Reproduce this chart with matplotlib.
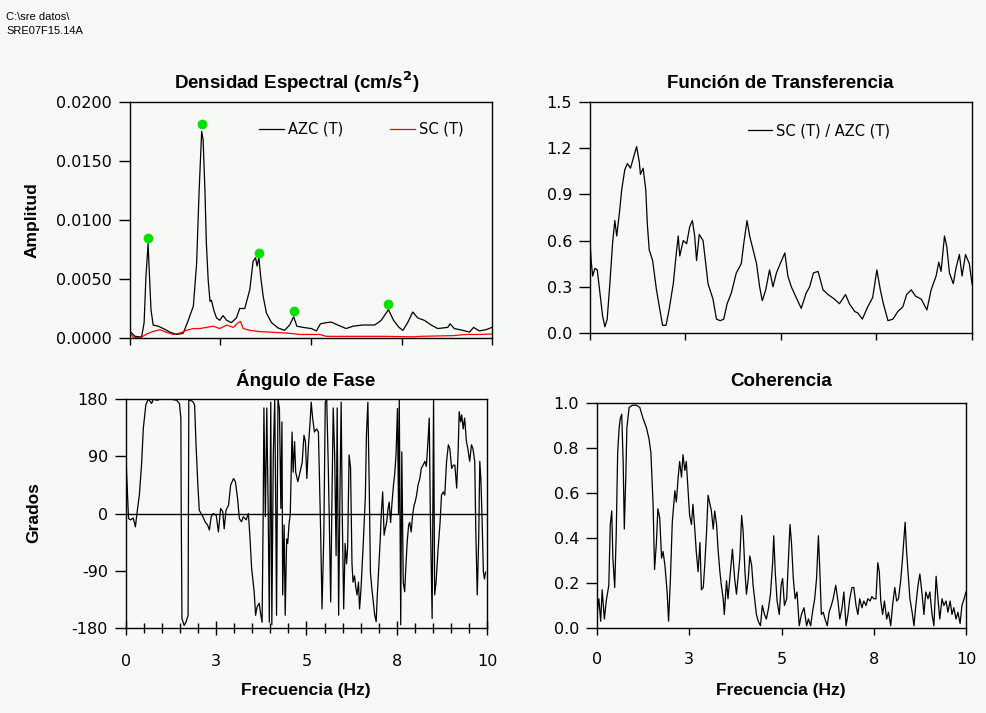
import matplotlib
matplotlib.use("Agg")
import matplotlib.pyplot as plt
from matplotlib.ticker import MultipleLocator

plt.rcParams["axes.unicode_minus"] = False

# ---- densidad espectral ----
azc_f = [0.00, 0.14, 0.32, 0.39, 0.44, 0.50, 0.53, 0.58, 0.64, 0.78, 0.92, 1.10, 1.29, 1.47,
         1.61, 1.75, 1.84, 1.91, 1.98, 2.02, 2.07, 2.11, 2.16, 2.21, 2.25, 2.32, 2.39, 2.48,
         2.57, 2.67, 2.80, 2.94, 3.03, 3.17, 3.31, 3.40, 3.47, 3.51, 3.56, 3.61, 3.68, 3.77,
         3.91, 4.09, 4.27, 4.41, 4.52, 4.61, 4.78, 5.01, 5.15, 5.26, 5.42, 5.56, 5.74, 5.97,
         6.16, 6.43, 6.76, 6.94, 7.14, 7.28, 7.43, 7.54, 7.67, 7.81, 7.95, 8.13, 8.32, 8.50,
         8.78, 8.84, 8.96, 9.19, 9.38, 9.49, 9.65, 9.83, 10.0]
azc_amp = [0.00056, 0.00014, 0.00008, 0.0013, 0.0052, 0.0080, 0.0058, 0.0024, 0.0011, 0.0010,
           0.0008, 0.0005, 0.0003, 0.0004, 0.0015, 0.0027, 0.0063, 0.0125, 0.0175, 0.0168,
           0.0125, 0.0080, 0.0049, 0.0031, 0.0032, 0.0023, 0.0017, 0.0015, 0.0019, 0.0015,
           0.0013, 0.0017, 0.0025, 0.0025, 0.0041, 0.0065, 0.0068, 0.0061, 0.0068, 0.0052,
           0.0035, 0.0021, 0.0013, 0.00085, 0.00065, 0.0011, 0.0018, 0.0010, 0.0009, 0.0008,
           0.0006, 0.0012, 0.0013, 0.00135, 0.0011, 0.0008, 0.0010, 0.0011, 0.0011, 0.0015,
           0.0024, 0.0015, 0.0009, 0.00065, 0.0013, 0.0022, 0.0017, 0.0015, 0.0011, 0.0008,
           0.0009, 0.0012, 0.0008, 0.00065, 0.0005, 0.0009, 0.0006, 0.0007, 0.0009]

sc_f = [0.00, 0.09, 0.28, 0.46, 0.64, 0.83, 1.01, 1.19, 1.38, 1.56, 1.75, 1.93, 2.11, 2.30,
        2.48, 2.67, 2.85, 2.99, 3.05, 3.13, 3.31, 3.58, 3.86, 4.32, 4.69, 5.24, 5.42, 6.16,
        7.08, 7.81, 8.00, 8.92, 9.28, 9.65, 10.0]
sc_amp = [0.00042, 0.00008, 0.0000, 0.00034, 0.00056, 0.0007, 0.00048, 0.0003, 0.00042,
          0.00065, 0.0008, 0.0008, 0.0009, 0.0010, 0.0008, 0.0011, 0.0009, 0.0013, 0.0014,
          0.0008, 0.00065, 0.00054, 0.0005, 0.00042, 0.0003, 0.0003, 0.00014, 0.00014,
          0.00014, 0.0001, 0.00014, 0.0002, 0.0003, 0.0003, 0.00034]

peak_f = [0.50, 1.98, 3.56, 4.52, 7.14]
peak_amp = [0.00851, 0.01811, 0.00718, 0.00231, 0.00287]

# ---- funcion de transferencia ----
tf_f = [0.00, 0.03, 0.07, 0.13, 0.19, 0.26, 0.33, 0.39, 0.45, 0.52, 0.59, 0.65, 0.70, 0.77,
        0.83, 0.91, 0.98, 1.06, 1.15, 1.22, 1.29, 1.32, 1.39, 1.46, 1.50, 1.55, 1.64, 1.74,
        1.83, 1.90, 1.99, 2.07, 2.18, 2.26, 2.31, 2.35, 2.44, 2.53, 2.61, 2.68, 2.74, 2.79,
        2.86, 2.96, 3.03, 3.09, 3.22, 3.31, 3.41, 3.50, 3.59, 3.70, 3.83, 3.96, 4.03, 4.11,
        4.18, 4.27, 4.36, 4.44, 4.51, 4.60, 4.70, 4.79, 4.88, 4.98, 5.10, 5.18, 5.27, 5.38,
        5.53, 5.66, 5.75, 5.85, 5.97, 6.10, 6.23, 6.40, 6.53, 6.69, 6.79, 6.93, 7.01, 7.13,
        7.27, 7.40, 7.51, 7.60, 7.68, 7.80, 7.93, 8.06, 8.19, 8.29, 8.41, 8.52, 8.67, 8.82,
        8.93, 9.06, 9.13, 9.19, 9.28, 9.34, 9.41, 9.51, 9.58, 9.67, 9.74, 9.83, 9.93, 10.0]
tf_val = [0.60, 0.47, 0.37, 0.42, 0.41, 0.26, 0.11, 0.04, 0.09, 0.32, 0.58, 0.73, 0.63, 0.78,
          0.93, 1.06, 1.10, 1.07, 1.15, 1.21, 1.11, 1.03, 1.07, 0.93, 0.71, 0.54, 0.47, 0.28,
          0.15, 0.05, 0.05, 0.15, 0.32, 0.52, 0.63, 0.50, 0.60, 0.58, 0.69, 0.73, 0.63, 0.47,
          0.64, 0.60, 0.45, 0.32, 0.22, 0.09, 0.08, 0.09, 0.19, 0.26, 0.39, 0.45, 0.59, 0.73,
          0.63, 0.54, 0.45, 0.30, 0.21, 0.28, 0.41, 0.30, 0.39, 0.45, 0.52, 0.37, 0.30, 0.24,
          0.16, 0.26, 0.30, 0.39, 0.40, 0.28, 0.25, 0.22, 0.19, 0.25, 0.19, 0.14, 0.13, 0.09,
          0.17, 0.23, 0.41, 0.28, 0.19, 0.08, 0.09, 0.14, 0.17, 0.25, 0.28, 0.24, 0.22, 0.15,
          0.28, 0.37, 0.46, 0.40, 0.63, 0.56, 0.39, 0.32, 0.42, 0.51, 0.37, 0.51, 0.45, 0.32]

# ---- angulo de fase (frecuencia, grados) ----
phase_pts = [
    (0.00, 87), (0.04, 34), (0.07, -8), (0.13, -10), (0.20, -7), (0.26, -21), (0.31, 3),
    (0.37, 29), (0.43, 76), (0.48, 134), (0.55, 171), (0.62, 180), (0.71, 173), (0.76, 180),
    (0.85, 178), (0.99, 180), (1.22, 180), (1.40, 178), (1.48, 173), (1.52, 150), (1.53, 0),
    (1.55, -165), (1.61, -176), (1.66, -171), (1.72, -160), (1.74, 180), (1.77, 178),
    (1.85, 176), (1.90, 171), (1.94, 108), (1.99, 45), (2.03, 5), (2.08, 0), (2.13, -5),
    (2.19, -13), (2.26, -18), (2.31, -26), (2.36, -5), (2.42, 0), (2.50, -3), (2.56, -29),
    (2.62, 8), (2.68, 3), (2.72, -24), (2.77, 5), (2.84, 13), (2.90, 45), (2.98, 55),
    (3.03, 50), (3.09, 24), (3.14, -8), (3.20, -13), (3.25, -5), (3.33, -10), (3.39, 0),
    (3.43, -34), (3.48, -86), (3.55, -123), (3.59, -160), (3.63, -147), (3.69, -141),
    (3.73, -158), (3.77, -171), (3.80, -2), (3.82, 166), (3.86, -5), (3.90, 166), (3.94, -2),
    (3.97, -171), (4.01, 175), (4.04, -175), (4.08, 92), (4.12, 180), (4.15, 0), (4.17, -160),
    (4.21, 180), (4.25, 165), (4.29, 8), (4.32, 144), (4.34, -128), (4.38, -18), (4.41, -160),
    (4.45, -40), (4.48, -47), (4.52, -14), (4.55, -2), (4.60, 128), (4.63, 65), (4.67, 113),
    (4.70, 65), (4.76, 50), (4.82, 65), (4.88, 80), (4.93, 123), (4.97, 113), (5.01, 55),
    (5.05, 103), (5.10, 144), (5.13, 175), (5.17, 150), (5.22, 128), (5.28, 133), (5.33, 128),
    (5.39, -23), (5.43, -150), (5.48, -34), (5.52, 175), (5.56, 180), (5.60, 82), (5.63, -5),
    (5.67, -139), (5.70, 0), (5.74, 166), (5.78, 92), (5.82, -66), (5.85, 166), (5.89, -160),
    (5.92, 0), (5.96, 175), (5.99, 0), (6.03, -150), (6.07, -47), (6.11, -79), (6.14, -53),
    (6.18, 92), (6.22, 72), (6.26, -79), (6.29, -108), (6.33, -98), (6.37, -118), (6.40, -128),
    (6.44, -108), (6.47, -150), (6.51, -118), (6.57, -50), (6.63, 26), (6.66, 123), (6.70, 175),
    (6.74, 34), (6.77, -92), (6.81, -118), (6.85, -139), (6.89, -160), (6.93, -170),
    (6.96, -130), (7.00, -86), (7.04, -44), (7.07, -2), (7.11, 34), (7.15, -34), (7.18, -24),
    (7.22, -14), (7.26, 8), (7.29, 18), (7.33, -14), (7.37, 18), (7.41, 45), (7.44, 60),
    (7.48, 92), (7.52, 165), (7.55, 0), (7.57, 180), (7.61, -175), (7.64, 97), (7.68, -108),
    (7.72, -123), (7.75, -86), (7.79, -44), (7.83, -18), (7.86, -14), (7.90, -29), (7.94, -2),
    (7.98, 13), (8.01, 18), (8.05, 29), (8.09, 45), (8.14, 55), (8.18, 71), (8.23, 76),
    (8.28, 82), (8.32, 74), (8.37, 118), (8.40, 150), (8.43, 0), (8.48, -165), (8.52, 180),
    (8.55, -128), (8.59, -108), (8.64, -60), (8.70, -14), (8.74, 29), (8.79, 34), (8.83, 29),
    (8.88, 82), (8.93, 108), (8.97, 102), (9.02, 71), (9.07, 76), (9.11, 76), (9.16, 40),
    (9.20, 97), (9.23, 160), (9.27, 144), (9.30, 155), (9.34, 133), (9.38, 150), (9.43, 113),
    (9.47, 102), (9.52, 82), (9.57, 108), (9.61, 102), (9.66, 82), (9.69, -29), (9.73, -128),
    (9.77, -40), (9.80, 82), (9.83, 55), (9.86, -2), (9.90, -92), (9.93, -103), (9.96, -92),
]
ph_f = [p[0] for p in phase_pts]
ph_deg = [p[1] for p in phase_pts]

# ---- coherencia ----
coh_f = [0.00, 0.05, 0.10, 0.14, 0.20, 0.25, 0.32, 0.36, 0.40, 0.43, 0.48, 0.52, 0.56, 0.60,
         0.63, 0.67, 0.71, 0.74, 0.78, 0.81, 0.87, 0.96, 1.07, 1.16, 1.25, 1.34, 1.41, 1.46,
         1.52, 1.56, 1.61, 1.65, 1.70, 1.75, 1.79, 1.84, 1.90, 1.94, 1.99, 2.04, 2.11, 2.15,
         2.20, 2.24, 2.29, 2.33, 2.38, 2.42, 2.47, 2.51, 2.56, 2.60, 2.65, 2.69, 2.74, 2.79,
         2.83, 2.88, 2.92, 2.97, 3.01, 3.06, 3.10, 3.15, 3.19, 3.24, 3.28, 3.33, 3.37, 3.42,
         3.45, 3.51, 3.55, 3.62, 3.67, 3.73, 3.78, 3.82, 3.87, 3.92, 3.96, 4.01, 4.05, 4.10,
         4.14, 4.19, 4.23, 4.28, 4.32, 4.37, 4.43, 4.48, 4.54, 4.59, 4.65, 4.70, 4.76, 4.79,
         4.83, 4.88, 4.94, 4.99, 5.03, 5.08, 5.14, 5.19, 5.23, 5.27, 5.32, 5.37, 5.42, 5.48,
         5.54, 5.61, 5.68, 5.73, 5.79, 5.84, 5.90, 5.95, 6.00, 6.04, 6.08, 6.13, 6.18, 6.24,
         6.29, 6.35, 6.40, 6.47, 6.53, 6.58, 6.64, 6.69, 6.75, 6.80, 6.85, 6.91, 6.96, 7.02,
         7.07, 7.12, 7.18, 7.23, 7.29, 7.34, 7.40, 7.45, 7.50, 7.56, 7.61, 7.65, 7.69, 7.74,
         7.79, 7.85, 7.90, 7.96, 8.01, 8.07, 8.12, 8.17, 8.23, 8.28, 8.32, 8.35, 8.39, 8.44,
         8.48, 8.54, 8.59, 8.64, 8.70, 8.75, 8.81, 8.86, 8.91, 8.97, 9.02, 9.08, 9.13, 9.19,
         9.24, 9.29, 9.35, 9.40, 9.46, 9.51, 9.57, 9.62, 9.67, 9.73, 9.78, 9.84, 9.89, 9.95,
         10.0]
coh_val = [0.06, 0.13, 0.03, 0.17, 0.04, 0.12, 0.19, 0.46, 0.52, 0.31, 0.18, 0.41, 0.78, 0.89,
           0.93, 0.95, 0.73, 0.44, 0.67, 0.89, 0.98, 0.99, 0.99, 0.98, 0.93, 0.89, 0.84, 0.78,
           0.55, 0.26, 0.38, 0.53, 0.49, 0.31, 0.34, 0.28, 0.16, 0.03, 0.22, 0.47, 0.61, 0.56,
           0.67, 0.74, 0.67, 0.77, 0.70, 0.74, 0.61, 0.50, 0.46, 0.55, 0.44, 0.34, 0.25, 0.38,
           0.17, 0.18, 0.28, 0.43, 0.59, 0.55, 0.52, 0.44, 0.52, 0.46, 0.35, 0.25, 0.19, 0.13,
           0.06, 0.21, 0.13, 0.26, 0.35, 0.22, 0.15, 0.22, 0.31, 0.50, 0.43, 0.25, 0.15, 0.22,
           0.32, 0.28, 0.19, 0.12, 0.06, 0.03, 0.01, 0.10, 0.06, 0.04, 0.09, 0.15, 0.29, 0.41,
           0.25, 0.12, 0.06, 0.19, 0.22, 0.10, 0.13, 0.31, 0.46, 0.38, 0.22, 0.13, 0.16, 0.01,
           0.06, 0.09, 0.01, 0.04, 0.01, 0.07, 0.13, 0.22, 0.41, 0.25, 0.06, 0.07, 0.04, 0.01,
           0.07, 0.10, 0.13, 0.19, 0.12, 0.04, 0.09, 0.16, 0.01, 0.06, 0.13, 0.18, 0.18, 0.10,
           0.06, 0.13, 0.09, 0.12, 0.10, 0.13, 0.12, 0.14, 0.13, 0.13, 0.29, 0.25, 0.12, 0.06,
           0.12, 0.04, 0.07, 0.01, 0.10, 0.18, 0.12, 0.13, 0.21, 0.31, 0.40, 0.47, 0.34, 0.22,
           0.13, 0.07, 0.01, 0.10, 0.19, 0.24, 0.15, 0.06, 0.16, 0.13, 0.16, 0.06, 0.01, 0.23,
           0.13, 0.04, 0.13, 0.10, 0.12, 0.07, 0.12, 0.06, 0.09, 0.04, 0.07, 0.02, 0.10, 0.13,
           0.16]

xticks = [0, 2.5, 5, 7.5, 10]
xticklabels = ["0", "3", "5", "8", "10"]

bg = "#f7f9f6"
fig = plt.figure(figsize=(9.87, 7.13), dpi=100)
fig.patch.set_facecolor(bg)

W, H = 987.0, 713.0
def box(l, t, r, b):
    return [l / W, 1 - b / H, (r - l) / W, (b - t) / H]

ax1 = fig.add_axes(box(130, 102, 492, 338))
ax2 = fig.add_axes(box(590, 102, 972, 333))
ax3 = fig.add_axes(box(126, 399, 487, 628))
ax4 = fig.add_axes(box(597, 403, 966, 628))

for ax in (ax1, ax2, ax3, ax4):
    ax.set_facecolor(bg)
    for s in ax.spines.values():
        s.set_linewidth(1.0)
        s.set_color("black")
    ax.set_xlim(0, 10)
    ax.set_xticks(xticks)
    ax.tick_params(axis="y", direction="out", length=8, width=1, pad=5, labelsize=11.5)
    ax.tick_params(axis="x", direction="out", length=5, width=1, labelsize=11.5, pad=12)

# densidad espectral
ax1.plot(azc_f, azc_amp, color="black", lw=0.9, label="AZC (T)")
ax1.plot(sc_f, sc_amp, color="#ff0000", lw=0.9, label="SC (T)")
ax1.plot(peak_f, peak_amp, "o", color="#00e000", ms=7, mec="none")
ax1.set_ylim(0, 0.02)
ax1.set_yticks([0, 0.005, 0.01, 0.015, 0.02])
ax1.set_yticklabels(["0.0000", "0.0050", "0.0100", "0.0150", "0.0200"])
ax1.tick_params(axis="x", labelbottom=False)
ax1.legend(loc="center", bbox_to_anchor=(0.64, 0.885), ncol=2, frameon=False,
           fontsize=10.5, handlelength=1.7, handletextpad=0.3, columnspacing=3.2)

# funcion de transferencia
ax2.plot(tf_f, tf_val, color="black", lw=0.9, label="SC (T) / AZC (T)")
ax2.set_ylim(0, 1.5)
ax2.set_yticks([0, 0.3, 0.6, 0.9, 1.2, 1.5])
ax2.set_yticklabels(["0.0", "0.3", "0.6", "0.9", "1.2", "1.5"])
ax2.tick_params(axis="x", labelbottom=False)
ax2.legend(loc="center", bbox_to_anchor=(0.60, 0.875), frameon=False,
           fontsize=10.5, handlelength=1.6, handletextpad=0.3)

# angulo de fase
ax3.axhline(0, color="black", lw=1.0)
ax3.plot(ph_f, ph_deg, color="black", lw=0.9)
ax3.set_ylim(-180, 180)
ax3.set_yticks([-180, -90, 0, 90, 180])
ax3.set_xticklabels(xticklabels)
ax3.xaxis.set_minor_locator(MultipleLocator(0.5))
ax3.tick_params(axis="x", which="major", direction="inout", length=10, pad=14)
ax3.tick_params(axis="x", which="minor", direction="inout", length=7, width=1)

# coherencia
ax4.plot(coh_f, coh_val, color="black", lw=0.9)
ax4.set_ylim(0, 1.0)
ax4.set_yticks([0, 0.2, 0.4, 0.6, 0.8, 1.0])
ax4.set_yticklabels(["0.0", "0.2", "0.4", "0.6", "0.8", "1.0"])
ax4.set_xticklabels(xticklabels)

# textos
bold = dict(fontweight="bold", family="Liberation Sans", ha="center", va="center")
fig.text(297 / W, 1 - 82 / H, "Densidad Espectral (cm/s$\\mathbf{^2}$)", fontsize=13.5, **bold)
fig.text(780 / W, 1 - 83 / H, "Función de Transferencia", fontsize=13.5, **bold)
fig.text(306 / W, 1 - 380 / H, "Ángulo de Fase", fontsize=13.5, **bold)
fig.text(781 / W, 1 - 381 / H, "Coherencia", fontsize=13.5, **bold)
fig.text(32 / W, 1 - 220 / H, "Amplitud", fontsize=12.5, rotation=90, **bold)
fig.text(34 / W, 1 - 513 / H, "Grados", fontsize=12.5, rotation=90, **bold)
fig.text(306 / W, 1 - 690 / H, "Frecuencia (Hz)", fontsize=12.5, **bold)
fig.text(781 / W, 1 - 690 / H, "Frecuencia (Hz)", fontsize=12.5, **bold)

fig.text(6 / W, 1 - 17 / H, "C:\\sre datos\\", fontsize=8, family="Liberation Sans", va="center")
fig.text(6 / W, 1 - 31 / H, "SRE07F15.14A", fontsize=8, family="Liberation Sans", va="center")

fig.savefig("out.png", dpi=100, facecolor=bg)
